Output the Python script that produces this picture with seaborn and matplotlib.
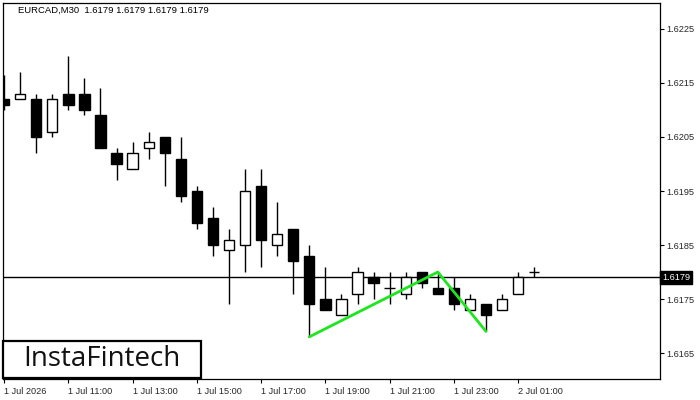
import matplotlib
matplotlib.use("Agg")
import matplotlib.pyplot as plt
import matplotlib.transforms as mtransforms
from matplotlib.patches import Rectangle
import seaborn as sns
import pandas as pd
import numpy as np

# ---- data ----
times = ["1 Jul 09:00", "1 Jul 09:30", "1 Jul 10:00", "1 Jul 10:30", "1 Jul 11:00", "1 Jul 11:30",
         "1 Jul 12:00", "1 Jul 12:30", "1 Jul 13:00", "1 Jul 13:30", "1 Jul 14:00", "1 Jul 14:30",
         "1 Jul 15:00", "1 Jul 15:30", "1 Jul 16:00", "1 Jul 16:30", "1 Jul 17:00", "1 Jul 17:30",
         "1 Jul 18:00", "1 Jul 18:30", "1 Jul 19:00", "1 Jul 19:30", "1 Jul 20:00", "1 Jul 20:30",
         "1 Jul 21:00", "1 Jul 21:30", "1 Jul 22:00", "1 Jul 22:30", "1 Jul 23:00", "1 Jul 23:30",
         "2 Jul 00:00", "2 Jul 00:30", "2 Jul 01:00", "2 Jul 01:30"]
opens  = [1.6212, 1.6212, 1.6212, 1.6206, 1.6213, 1.6213, 1.6209, 1.6202, 1.6199, 1.6203,
          1.6205, 1.6201, 1.6195, 1.6190, 1.6184, 1.6185, 1.6196, 1.6185, 1.6188, 1.6183,
          1.6175, 1.6172, 1.6176, 1.6179, 1.6177, 1.6176, 1.6180, 1.6177, 1.6177, 1.6173,
          1.6174, 1.6173, 1.6176, 1.6180]
highs  = [1.62165, 1.6217, 1.6213, 1.6213, 1.6220, 1.6216, 1.6214, 1.6203, 1.6204, 1.6206,
          1.6205, 1.6205, 1.6196, 1.6192, 1.6188, 1.6199, 1.6199, 1.6193, 1.6188, 1.6185,
          1.6181, 1.6176, 1.6181, 1.6180, 1.6180, 1.6180, 1.6180, 1.6180, 1.6179, 1.6176,
          1.6174, 1.6176, 1.6180, 1.6181]
lows   = [1.6210, 1.6212, 1.6202, 1.6205, 1.6210, 1.6209, 1.6203, 1.6197, 1.6199, 1.6201,
          1.6196, 1.6193, 1.6188, 1.6183, 1.6174, 1.6180, 1.6181, 1.6183, 1.6176, 1.6168,
          1.6173, 1.6172, 1.6174, 1.6175, 1.6174, 1.6175, 1.6177, 1.6176, 1.6173, 1.6173,
          1.6169, 1.6173, 1.6176, 1.6179]
closes = [1.6211, 1.6213, 1.6205, 1.6212, 1.6211, 1.6210, 1.6203, 1.6200, 1.6202, 1.6204,
          1.6202, 1.6194, 1.6189, 1.6185, 1.6186, 1.6195, 1.6186, 1.6187, 1.6182, 1.6174,
          1.6173, 1.6175, 1.6180, 1.6178, 1.6177, 1.6179, 1.6178, 1.6176, 1.6174, 1.6175,
          1.6172, 1.6175, 1.6179, 1.6180]

pattern_idx = [19, 27, 30]
pattern_price = [1.6168, 1.6180, 1.6169]

current_price = 1.6179
title_text = "EURCAD,M30  1.6179 1.6179 1.6179 1.6179"
x_tick_idx = [0, 4, 8, 12, 16, 20, 24, 28, 32]
x_tick_labels = ["1 Jul 2026", "1 Jul 11:00", "1 Jul 13:00", "1 Jul 15:00", "1 Jul 17:00",
                 "1 Jul 19:00", "1 Jul 21:00", "1 Jul 23:00", "2 Jul 01:00"]
y_ticks = [1.6165, 1.6175, 1.6185, 1.6195, 1.6205, 1.6215, 1.6225]

df = pd.DataFrame({"t": times, "o": opens, "h": highs, "l": lows, "c": closes})
df["i"] = np.arange(len(df))
pat = pd.DataFrame({"i": pattern_idx, "p": pattern_price})

# ---- style ----
sns.set_style("white")
plt.rcParams["font.family"] = ["Liberation Sans", "DejaVu Sans"]

W, H = 700, 400
fig = plt.figure(figsize=(7, 4), dpi=100)
ax = fig.add_axes([2.5 / W, 1 - 379 / H, (659.5 - 2.5) / W, (379 - 3) / H])

bw = 0.64
# wicks
ax.vlines(df["i"], df["l"], df["h"], color="black", lw=1.0, zorder=2)
# bodies
for _, r in df.iterrows():
    lo = min(r.o, r.c)
    hgt = abs(r.c - r.o)
    if hgt < 1e-9:
        ax.hlines(r.o, r.i - bw / 2, r.i + bw / 2, color="black", lw=1.0, zorder=3)
        continue
    fc = "white" if r.c > r.o else "black"
    ax.bar(r.i, hgt, bottom=lo, width=bw, color=fc, edgecolor="black", linewidth=1.0, zorder=3)

# current price line
ax.axhline(current_price, color="black", lw=1.0, zorder=1)

# pattern line
sns.lineplot(data=pat, x="i", y="p", color="#1ee61e", lw=2.0, ax=ax, zorder=4, legend=False)

ax.set_xlim(-0.1, 40.8)
ax.set_ylim(1.61602, 1.62298)

tick_fs = 6.6
ax.set_xticks(x_tick_idx)
ax.set_xticklabels(x_tick_labels, ha="left", fontsize=tick_fs)
ax.set_yticks(y_ticks)
ax.set_yticklabels([f"{v:.4f}" for v in y_ticks], fontsize=tick_fs)
ax.yaxis.tick_right()
ax.tick_params(axis="both", direction="out", length=3, width=0.8, color="black", pad=2)
ax.tick_params(axis="x", bottom=True, pad=3)
ax.tick_params(axis="y", right=True, left=False)
ax.set_xlabel("")
ax.set_ylabel("")
for s in ax.spines.values():
    s.set_color("black")
    s.set_linewidth(0.9)

# price label on the axis
trans = mtransforms.blended_transform_factory(ax.transAxes, ax.transData)
ax.text(1.004, current_price, "1.6179", transform=trans, fontsize=tick_fs, color="white",
        va="center", ha="left", clip_on=False, zorder=10,
        bbox=dict(boxstyle="square,pad=0.22", facecolor="black", edgecolor="black"))

# title
fig.text(18 / W, 1 - 10.5 / H, title_text, fontsize=6.8, color="black", va="center", ha="left")

# logo
fig.add_artist(Rectangle((3 / W, 1 - 378 / H), 198 / W, 37 / H, transform=fig.transFigure,
                         facecolor="white", edgecolor="black", lw=1.6, zorder=20))
fig.text(102 / W, 1 - 359.5 / H, "InstaFintech", fontsize=20, color="#111111",
         family=["Open Sans", "DejaVu Sans"], va="center", ha="center", zorder=21)

fig.savefig("out.png", dpi=100)
